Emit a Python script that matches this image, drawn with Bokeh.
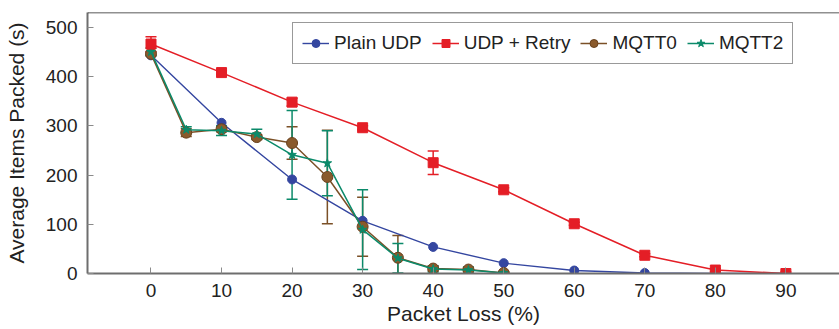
from bokeh.plotting import figure
from bokeh.models import ColumnDataSource, Whisker, TeeHead, Range1d, FixedTicker, Legend, LegendItem, Span
from bokeh.embed import file_html
from bokeh.resources import INLINE

# ---- data ----
loss_udp = [0, 10, 20, 30, 40, 50, 60, 70, 80, 90]
plain_udp = [443, 306, 191, 107, 54, 21, 6, 1, 0, 0]
udp_retry = [466, 408, 348, 296, 225, 170, 101, 37, 7, 0]
udp_retry_err = [15, 4, 8, 4, 24, 4, 3, 3, 3, 3]

loss_mqtt = [0, 5, 10, 15, 20, 25, 30, 35, 40, 45, 50]
mqtt0 = [446, 286, 293, 277, 265, 196, 95, 32, 10, 8, 1]
mqtt0_err = [4, 8, 5, 5, 33, 95, 60, 45, 5, 4, 2]
mqtt2 = [450, 292, 290, 283, 241, 224, 89, 31, 9, 7, 1]
mqtt2_err = [8, 6, 10, 10, 90, 66, 81, 30, 6, 6, 2]

x_ticks = [0, 10, 20, 30, 40, 50, 60, 70, 80, 90]
y_ticks = [0, 100, 200, 300, 400, 500]

BLUE = "#3446a0"
RED = "#e41e26"
BROWN = "#7b5027"
TEAL = "#0b8a6a"
FONT = "Liberation Sans"
Y_TOP = 530

p = figure(width=839, height=329, output_backend="svg", toolbar_location=None,
           x_range=Range1d(-9.0, 97.6), y_range=Range1d(0, Y_TOP),
           min_border_left=87, min_border_right=0, min_border_top=12, min_border_bottom=56)
p.grid.visible = False
p.outline_line_color = None
p.background_fill_color = "white"
p.border_fill_color = "white"

# top frame line only (the right side of the frame is cut off in the reference)
p.add_layout(Span(location=Y_TOP, dimension="width", line_color="#222222", line_width=1.5))

for ax in (p.xaxis[0], p.yaxis[0]):
    ax.axis_line_color = "#6e6e6e"
    ax.axis_line_width = 2
    ax.major_tick_line_color = "#8a8a8a"
    ax.major_tick_in = 6
    ax.major_tick_out = 0
    ax.minor_tick_line_color = None
    ax.major_label_text_font = FONT
    ax.major_label_text_font_size = "19px"
    ax.major_label_text_color = "#222222"
    ax.axis_label_text_font = FONT
    ax.axis_label_text_font_size = "21px"
    ax.axis_label_text_font_style = "normal"
    ax.axis_label_text_color = "#222222"

p.xaxis.ticker = FixedTicker(ticks=x_ticks)
p.yaxis.ticker = FixedTicker(ticks=y_ticks)
p.xaxis.axis_label = "Packet Loss (%)"
p.yaxis.axis_label = "Average Items Packed (s)"
p.xaxis.major_label_standoff = 10
p.xaxis.axis_label_standoff = 2
p.yaxis.major_label_standoff = 10
p.yaxis.axis_label_standoff = 15


def err_source(xs, ys, errs):
    return ColumnDataSource(dict(x=xs, upper=[y + e for y, e in zip(ys, errs)],
                                 lower=[y - e for y, e in zip(ys, errs)]))


def add_whisker(xs, ys, errs, color):
    src = err_source(xs, ys, errs)
    w = Whisker(source=src, base="x", upper="upper", lower="lower",
                line_color=color, line_width=1.5,
                upper_head=TeeHead(size=11, line_color=color, line_width=1.5),
                lower_head=TeeHead(size=11, line_color=color, line_width=1.5))
    p.add_layout(w)


items = []

# Plain UDP
l1 = p.line(loss_udp, plain_udp, line_color=BLUE, line_width=1.4)
m1 = p.scatter(loss_udp, plain_udp, marker="circle", size=9, fill_color=BLUE, line_color=BLUE)
items.append(LegendItem(label="Plain UDP", renderers=[l1, m1]))

# MQTT0
add_whisker(loss_mqtt, mqtt0, mqtt0_err, BROWN)
l3 = p.line(loss_mqtt, mqtt0, line_color=BROWN, line_width=1.5)
m3 = p.scatter(loss_mqtt, mqtt0, marker="circle", size=11, fill_color="#8a5a2c", line_color="#6a421e")

# MQTT2
add_whisker(loss_mqtt, mqtt2, mqtt2_err, TEAL)
l4 = p.line(loss_mqtt, mqtt2, line_color=TEAL, line_width=1.5)
m4 = p.scatter(loss_mqtt, mqtt2, marker="star", size=9, fill_color=TEAL, line_color=TEAL)

# UDP + Retry
add_whisker(loss_udp, udp_retry, udp_retry_err, RED)
l2 = p.line(loss_udp, udp_retry, line_color=RED, line_width=1.5)
m2 = p.scatter(loss_udp, udp_retry, marker="square", size=10, fill_color=RED, line_color=RED)

items.append(LegendItem(label="UDP + Retry", renderers=[l2, m2]))
items.append(LegendItem(label="MQTT0", renderers=[l3, m3]))
items.append(LegendItem(label="MQTT2", renderers=[l4, m4]))

legend = Legend(items=items, orientation="horizontal", location=(205, 209),
                label_text_font=FONT, label_text_font_size="19px", label_text_color="#222222",
                glyph_width=27, glyph_height=20, label_standoff=5, spacing=10,
                padding=9, margin=0, border_line_color="#333333", border_line_width=1.5,
                background_fill_color="white", background_fill_alpha=1.0)
p.add_layout(legend)

open("out.html", "w").write(file_html(p, INLINE))
